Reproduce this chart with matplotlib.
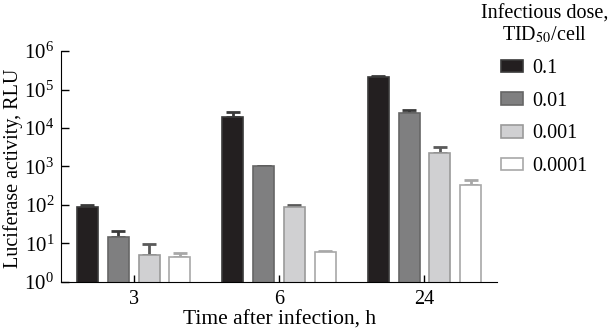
import numpy as np
import matplotlib
matplotlib.use("Agg")
import matplotlib.pyplot as plt

plt.rcParams['font.family'] = ['Liberation Serif', 'DejaVu Serif']
plt.rcParams['mathtext.fontset'] = 'stix'

# data
times = ['3', '6', '24']
doses = ['0.1', '0.01', '0.001', '0.0001']
means = [
    [89, 19500, 214000],
    [15, 1030, 24000],
    [5, 89, 2290],
    [4.4, 5.9, 330],
]
err_up = [
    [9, 6200, 8000],
    [6, 20, 4700],
    [4.6, 11, 1000],
    [1.1, 0.3, 107],
]

face = ['#231f20', '#7f7f80', '#d0d0d2', '#ffffff']
edge = ['#3a3a3a', '#666666', '#9a9a9a', '#a8a8a8']
ecol = ['#3a3a3a', '#3a3a3a', '#5a5a5a', '#a8a8a8']

fig = plt.figure(figsize=(6.1, 3.34), dpi=100)
ax = fig.add_axes([0.1, 0.156, 0.715, 0.691])

x = np.arange(len(times))
w = 0.144
step = 0.212
for i in range(len(doses)):
    pos = x + (i - 1.5) * step
    m = np.array(means[i])
    e = np.array(err_up[i])
    ax.bar(pos, m, width=w, color=face[i], edgecolor=edge[i], linewidth=1.2,
           label=doses[i], zorder=2)
    ax.errorbar(pos, m, yerr=[np.zeros_like(e), e], fmt='none', ecolor=ecol[i],
                elinewidth=2, capsize=5, capthick=2, zorder=1)

ax.set_yscale('log')
ax.set_ylim(1, 1e6)
ax.set_xlim(-0.5, 2.5)
ax.set_yticks([1, 10, 100, 1e3, 1e4, 1e5, 1e6])
ax.yaxis.set_minor_locator(matplotlib.ticker.NullLocator())
ax.set_xticks(x)
ax.set_xticklabels(times)
ax.tick_params(axis='y', direction='in', length=6, width=1, labelsize=15, pad=5)
ax.tick_params(axis='x', direction='in', length=5, width=1, labelsize=14.5, pad=6)
for s in ['top', 'right']:
    ax.spines[s].set_visible(False)
ax.set_xlabel('Time after infection, h', fontsize=15.5, labelpad=1)

# y label placed by hand, it sits close to the left edge
fig.text(13 / 610, 1 - 168 / 334, 'Luciferase activity, RLU', fontsize=14.5,
         rotation=90, ha='center', va='center')

fig.text(545 / 610, 1 - 14 / 334, 'Infectious dose,', fontsize=14.5,
         ha='center', va='center')
fig.text(545 / 610, 1 - 35 / 334, 'TID$_{50}$/cell', fontsize=14.5,
         ha='center', va='center')

leg = fig.legend(loc='upper left', bbox_to_anchor=(501 / 610, 1 - 59 / 334),
                 frameon=False, fontsize=14.5, borderpad=0, borderaxespad=0,
                 handlelength=1.1, handleheight=0.6, labelspacing=0.68,
                 handletextpad=0.45)

fig.savefig('out.png', dpi=100)
